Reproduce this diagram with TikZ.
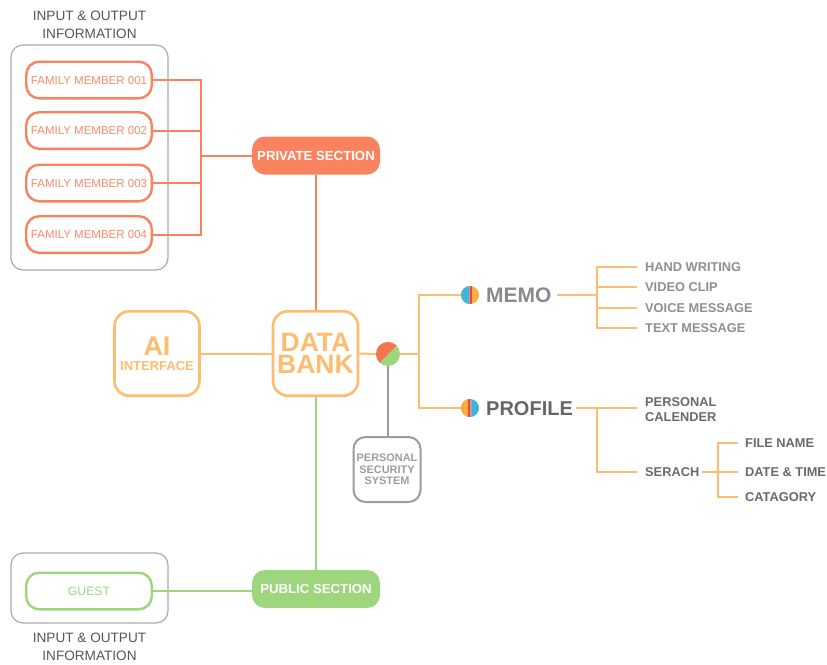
\documentclass[tikz,border=0pt]{standalone}
\usepackage{fontspec}
\setmainfont{Liberation Sans}
\definecolor{salmon}{HTML}{F9825F}
\definecolor{salmontext}{HTML}{F98A68}
\definecolor{peach}{HTML}{FDBC6E}
\definecolor{leaf}{HTML}{9DD67C}
\definecolor{boxgray}{HTML}{ABABAB}
\definecolor{pssgray}{HTML}{9C9C9C}
\definecolor{titlegray}{HTML}{555555}
\definecolor{memogray}{HTML}{8F8F8F}
\definecolor{profgray}{HTML}{696969}
\definecolor{memotitle}{HTML}{8A8A8A}
\definecolor{proftitle}{HTML}{666666}
\definecolor{secred}{HTML}{F4744F}
\definecolor{icblue}{HTML}{3FB5D8}
\definecolor{icpurple}{HTML}{B69ACB}
\definecolor{icred}{HTML}{EC4A2A}
\definecolor{icorange}{HTML}{FDAF3E}
\begin{document}
\begin{tikzpicture}[x=1pt,y=-1pt,
  container/.style={draw=boxgray, line width=1.2pt, rounded corners=12pt, inner sep=0pt},
  fambox/.style={draw=salmon, line width=2.4pt, rounded corners=13pt, minimum width=125.6pt, minimum height=36.6pt, inner sep=0pt, text=salmontext, font=\fontsize{11.5}{13}\selectfont, text height=8.2pt, text depth=0pt},
  guestbox/.style={fambox, draw=leaf, text=leaf, font=\fontsize{12.2}{14}\selectfont, text height=8.7pt},
  secbox/.style={rounded corners=13pt, minimum width=128pt, minimum height=38pt, inner sep=0pt, text=white, font=\bfseries\fontsize{13.2}{15}\selectfont, text height=9.45pt, text depth=0pt},
  bigbox/.style={draw=peach, line width=2.6pt, rounded corners=15pt, minimum width=85pt, minimum height=84.5pt, inner sep=0pt, text=peach, align=center},
  iotitle/.style={align=center, text=titlegray, font=\fontsize{13.6}{18}\selectfont, inner sep=0pt},
  memoitem/.style={anchor=west, inner sep=0pt, text=memogray, font=\bfseries\fontsize{12.8}{14}\selectfont, text height=9.1pt, text depth=0pt},
  profitem/.style={memoitem, text=profgray},
  icon/.style={circle, minimum size=18pt, inner sep=0pt},
  conn/.style={line width=2pt},
  salmonline/.style={conn, draw=salmon},
  peachline/.style={conn, draw=peach},
  leafline/.style={conn, draw=leaf},
  grayline/.style={conn, draw=pssgray}
]
\useasboundingbox (0,0) rectangle (827,664);

% ---------- top container ----------
\node[iotitle] (ttop) at (89.5,24.5) {INPUT \& OUTPUT\\INFORMATION};
\node[container, minimum width=157pt, minimum height=225pt] (iotop) at (89.5,157.5) {};
\node[fambox] (fm1) at (89,80) {FAMILY MEMBER 001};
\node[fambox] (fm2) at (89,130.5) {FAMILY MEMBER 002};
\node[fambox] (fm3) at (89,183) {FAMILY MEMBER 003};
\node[fambox] (fm4) at (89,234.5) {FAMILY MEMBER 004};

\node[secbox, fill=salmon] (priv) at (316,155.5) {PRIVATE SECTION};
\coordinate (famjoin) at (201,155.5);

% ---------- centre ----------
\node[bigbox, font=\bfseries\fontsize{26.5}{22.5}\selectfont] (db) at (315.5,353.5) {DATA\\BANK};
\node[bigbox, font=\bfseries\fontsize{27}{15}\selectfont] (ai) at (157,353.5) {AI\\{\fontsize{13}{15}\selectfont INTERFACE}};

\node[circle, minimum size=24pt, inner sep=0pt, fill=leaf,
  path picture={\fill[secred] (path picture bounding box.north west) -- (path picture bounding box.north east) -- (path picture bounding box.south west) -- cycle;}] (split) at (388,354) {};

\node[draw=pssgray, line width=2pt, rounded corners=12pt, minimum width=67pt, minimum height=65pt, inner sep=0pt, align=center, text=pssgray, font=\bfseries\fontsize{10.9}{11.5}\selectfont] (pss) at (387,469.5) {PERSONAL\\SECURITY\\SYSTEM};

\coordinate (busB) at (419,354);

% ---------- memo ----------
\node[icon, fill=icorange, path picture={
  \fill[icblue] (path picture bounding box.south west) rectangle ([xshift=7.5pt]path picture bounding box.north west);
  \fill[icpurple] ([xshift=7.5pt]path picture bounding box.south west) rectangle ([xshift=9pt]path picture bounding box.north west);
  \fill[icred] ([xshift=9pt]path picture bounding box.south west) rectangle ([xshift=11pt]path picture bounding box.north west);}] (memoicon) at (470,295) {};
\node[anchor=west, inner sep=0pt, text=memotitle, font=\bfseries\fontsize{21}{24}\selectfont, text height=15pt, text depth=0pt] (memo) at (486,295) {MEMO};
\coordinate (memobus) at (597,295);
\node[memoitem] (hw) at (645,267) {HAND WRITING};
\node[memoitem] (vc) at (645,287) {VIDEO CLIP};
\node[memoitem] (vm) at (645,308) {VOICE MESSAGE};
\node[memoitem] (tm) at (645,328) {TEXT MESSAGE};

% ---------- profile ----------
\node[icon, fill=icblue, path picture={
  \fill[icorange] (path picture bounding box.south west) rectangle ([xshift=7pt]path picture bounding box.north west);
  \fill[icred] ([xshift=7pt]path picture bounding box.south west) rectangle ([xshift=9pt]path picture bounding box.north west);
  \fill[icpurple] ([xshift=9pt]path picture bounding box.south west) rectangle ([xshift=10.5pt]path picture bounding box.north west);}] (proficon) at (470,408) {};
\node[anchor=west, inner sep=0pt, text=proftitle, font=\bfseries\fontsize{20}{24}\selectfont, text height=14.3pt, text depth=0pt] (prof) at (486,408) {PROFILE};
\coordinate (profbus) at (597,408);
\node[profitem, align=left, text height=, text depth=, font=\bfseries\fontsize{12.8}{15}\selectfont] (pc) at (645,409.5) {PERSONAL\\CALENDER};
\node[profitem] (search) at (645,472) {SERACH};
\coordinate (subbus) at (718,472);
\node[profitem] (fn) at (745,442.5) {FILE NAME};
\node[profitem] (dt) at (745,471.5) {DATE \& TIME};
\node[profitem] (cat) at (745,497) {CATAGORY};

% ---------- bottom ----------
\node[secbox, fill=leaf] (pub) at (316,589) {PUBLIC SECTION};
\node[container, minimum width=157pt, minimum height=70pt] (iobot) at (89.5,588) {};
\node[guestbox] (guest) at (89,591) {GUEST};
\node[iotitle] (tbot) at (89.5,647) {INPUT \& OUTPUT\\INFORMATION};

% ---------- connectors ----------
\draw[salmonline] (fm1.east) -| (famjoin);
\draw[salmonline] (fm4.east) -| (famjoin);
\draw[salmonline] (fm2.east) -- (fm2.east -| famjoin);
\draw[salmonline] (fm3.east) -- (fm3.east -| famjoin);
\draw[salmonline] (famjoin) -- (priv.west);
\draw[salmonline] (priv.south) -- (priv.south |- db.north);
\draw[peachline] (ai.east) -- (db.west);
\draw[leafline] (db.south) -- (db.south |- pub.north);
\draw[leafline] (guest.east) -- (guest.east -| pub.west);
\draw[peachline] (db.east) -- (split.west);
\draw[peachline] (split.east) -- (busB);
\draw[peachline] (busB) |- (memoicon.west);
\draw[peachline] (busB) |- (proficon.west);
\draw[grayline] (split.south) -- (split.south |- pss.north);

\draw[peachline, shorten <=5pt] (memo.east) -- (memobus);
\draw[peachline, shorten >=8pt] (memobus) |- (hw.west);
\draw[peachline, shorten >=8pt] (memobus) |- (vc.west);
\draw[peachline, shorten >=8pt] (memobus) |- (vm.west);
\draw[peachline, shorten >=8pt] (memobus) |- (tm.west);

\draw[peachline, shorten <=3pt] (prof.east) -- (profbus);
\draw[peachline, shorten >=8pt] (profbus) -- (profbus -| pc.west);
\draw[peachline, shorten >=8pt] (profbus) |- (search.west);
\draw[peachline, shorten <=2.5pt] (search.east) -- (subbus);
\draw[peachline, shorten >=7pt] (subbus) |- (fn.west);
\draw[peachline, shorten >=7pt] (subbus) -- (subbus -| dt.west);
\draw[peachline, shorten >=7pt] (subbus) |- (cat.west);
\end{tikzpicture}
\end{document}
